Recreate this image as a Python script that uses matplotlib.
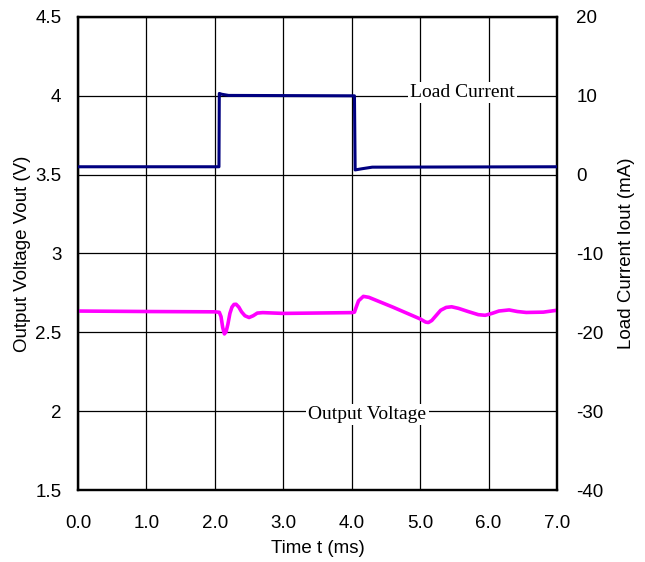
import matplotlib.pyplot as plt
import numpy as np

plt.rcParams['font.family'] = ['Liberation Sans', 'DejaVu Sans']
plt.rcParams['axes.unicode_minus'] = False

# output voltage waveform (ms, V)
t_vout = [0.0, 1.0, 2.0, 2.065, 2.09, 2.115, 2.14, 2.165, 2.19, 2.22, 2.25, 2.28,
          2.31, 2.35, 2.39, 2.44, 2.50, 2.56, 2.62, 2.70, 3.0, 4.0, 4.04, 4.07,
          4.10, 4.17, 4.25, 4.6, 5.0, 5.08, 5.12, 5.17, 5.23, 5.30, 5.38, 5.46,
          5.56, 5.70, 5.85, 5.95, 6.05, 6.15, 6.30, 6.42, 6.55, 6.8, 7.0]
vout = [2.635, 2.632, 2.630, 2.627, 2.60, 2.53, 2.49, 2.505, 2.55, 2.62, 2.66, 2.677,
        2.678, 2.66, 2.63, 2.605, 2.594, 2.605, 2.622, 2.625, 2.62, 2.625, 2.628, 2.665,
        2.70, 2.728, 2.722, 2.66, 2.585, 2.565, 2.562, 2.575, 2.605, 2.64, 2.658, 2.662,
        2.652, 2.632, 2.612, 2.608, 2.62, 2.635, 2.642, 2.632, 2.626, 2.628, 2.64]

# load current waveform (ms, mA)
t_iout = [0.0, 2.06, 2.065, 2.10, 2.2, 4.04, 4.05, 4.15, 4.3, 7.0]
iout = [1.0, 1.0, 10.3, 10.2, 10.05, 10.0, 0.6, 0.75, 0.95, 1.0]

x_ticks = np.arange(0, 7.01, 1.0)
v_ticks = [1.5, 2, 2.5, 3, 3.5, 4, 4.5]
i_ticks = [-40, -30, -20, -10, 0, 10, 20]

fig = plt.figure(figsize=(6.45, 5.62), dpi=100)
ax = fig.add_axes([0.1209, 0.1281, 0.7427, 0.8417])
ax2 = ax.twinx()

ax.plot(t_vout, vout, color='#ff00ff', lw=2.6, zorder=3)
ax2.plot(t_iout, iout, color='#000080', lw=2.2, zorder=3)

ax.set_xlim(0, 7)
ax.set_ylim(1.5, 4.5)
ax2.set_ylim(-40, 20)
ax.set_xticks(x_ticks)
ax.set_xticklabels([f"{v:.1f}" for v in x_ticks])
ax.set_yticks(v_ticks)
ax.set_yticklabels([f"{v:g}" for v in v_ticks])
ax2.set_yticks(i_ticks)
ax2.set_yticklabels([str(v) for v in i_ticks])

ax.grid(True, color='black', lw=0.9)
ax.set_axisbelow(True)
for a in (ax, ax2):
    for s in a.spines.values():
        s.set_linewidth(1.6)
ax.tick_params(axis='x', direction='in', length=0, pad=18, labelsize=13.5)
ax.tick_params(axis='y', direction='in', length=0, pad=12, labelsize=13.5)
ax2.tick_params(axis='y', direction='in', length=0, pad=14, labelsize=13.5)

ax.set_xlabel("Time t (ms)", fontsize=13.5, labelpad=6)
ax.set_ylabel("Output Voltage Vout (V)", fontsize=13.5, labelpad=3)
ax2.set_ylabel("Load Current Iout (mA)", fontsize=13.5, labelpad=10)

serif = ['Liberation Serif', 'DejaVu Serif']
box = dict(facecolor='white', edgecolor='none', pad=1.5)
ax.text(5.62, 4.02, "Load Current", family=serif, fontsize=14, ha='center',
        va='center', bbox=box, zorder=4)
ax.text(4.23, 1.98, "Output Voltage", family=serif, fontsize=14, ha='center',
        va='center', bbox=box, zorder=4)

fig.savefig("out.png", dpi=100)
